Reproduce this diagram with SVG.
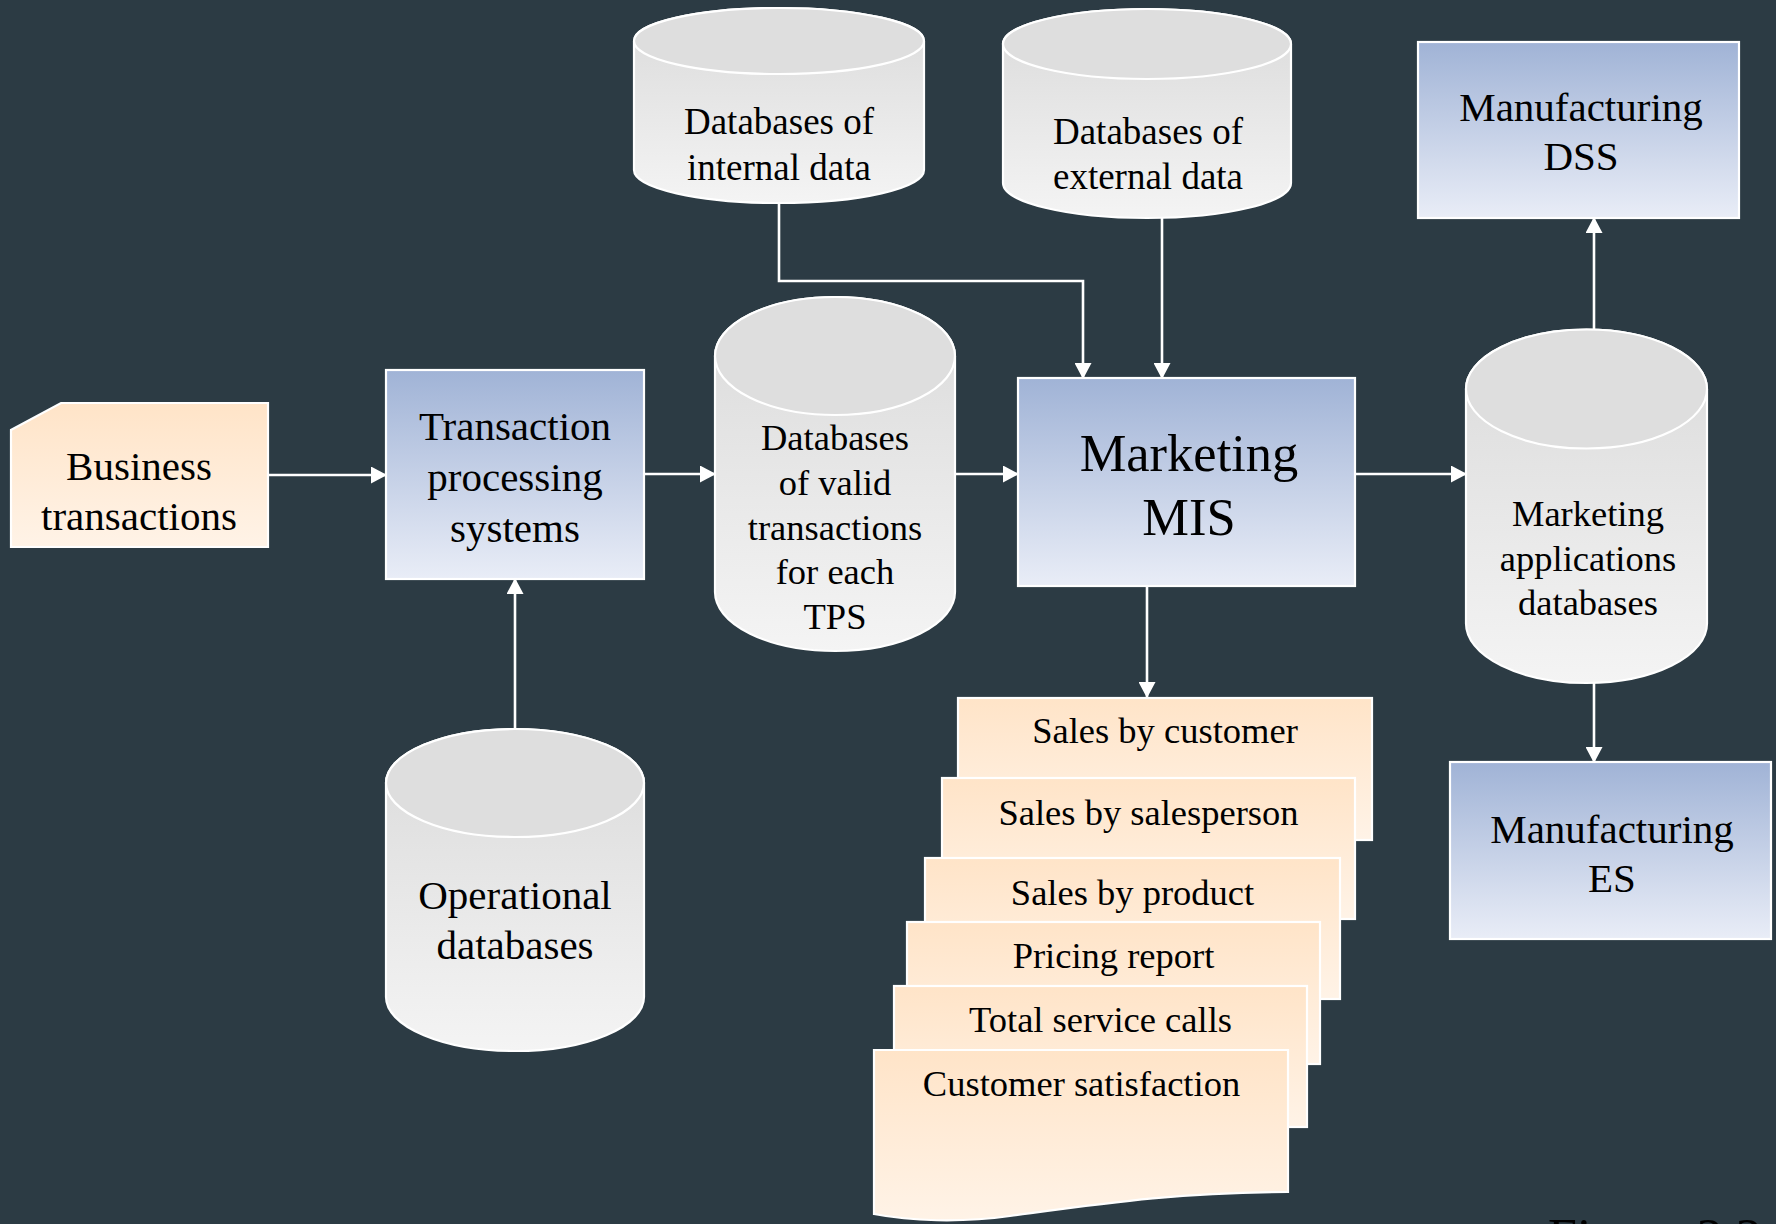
<svg xmlns="http://www.w3.org/2000/svg" width="1776" height="1224" viewBox="0 0 1776 1224">
<defs>
<linearGradient id="peach" x1="0" y1="0" x2="0" y2="1"><stop offset="0" stop-color="#FFE4C8"/><stop offset="1" stop-color="#FFF3E7"/></linearGradient>
<linearGradient id="blue" x1="0" y1="0" x2="0" y2="1"><stop offset="0" stop-color="#A0B3D6"/><stop offset="1" stop-color="#E9EDF7"/></linearGradient>
<linearGradient id="cyl" x1="0" y1="0" x2="0" y2="1"><stop offset="0" stop-color="#DADADA"/><stop offset="1" stop-color="#F4F4F4"/></linearGradient>
<marker id="arr" markerUnits="userSpaceOnUse" markerWidth="17" markerHeight="17" refX="15" refY="8.5" orient="auto"><path d="M0,0 L16,8.5 L0,17 Z" fill="#FFFFFF"/></marker>
<style>
.bg{fill:#2C3B44}
.box{stroke:#FFFFFF;stroke-width:2.2}
.pe{fill:url(#peach)}
.bl{fill:url(#blue)}
.cb{fill:url(#cyl);stroke:#FFFFFF;stroke-width:2.2}
.ct{fill:#DEDEDE;stroke:#FFFFFF;stroke-width:2.2}
.con{fill:none;stroke:#FFFFFF;stroke-width:2.6;marker-end:url(#arr)}
text{font-family:"Liberation Serif","Times New Roman",serif;fill:#000000;text-anchor:middle}
.t41{font-size:41px}
.t37{font-size:37px}
.t36{font-size:36.5px}
.t52{font-size:52.5px}
</style>
</defs>
<rect class="bg" x="0" y="0" width="1776" height="1224"/>

<g id="connectors">
<path class="con" d="M268,475 H386"/>
<path class="con" d="M644,474 H715"/>
<path class="con" d="M955,474 H1018"/>
<path class="con" d="M1355,474 H1466"/>
<path class="con" d="M515,729 V579"/>
<path class="con" d="M779,203 V281 H1083 V378"/>
<path class="con" d="M1162,218 V378"/>
<path class="con" d="M1594,329 V218"/>
<path class="con" d="M1594,683 V762"/>
<path class="con" d="M1147,586 V697"/>
</g>

<g id="business-transactions">
<path class="box pe" d="M61,403 H268 V547 H11 V430 Z"/>
<text class="t41" x="139" y="480">Business</text>
<text class="t41" x="139" y="530">transactions</text>
</g>

<g id="tps">
<rect class="box bl" x="386" y="370" width="258" height="209"/>
<text class="t41" x="515" y="440">Transaction</text>
<text class="t41" x="515" y="491">processing</text>
<text class="t41" x="515" y="542">systems</text>
</g>

<g id="db-internal">
<path class="cb" d="M634,41 A145,33 0 0 1 924,41 V170 A145,33 0 0 1 634,170 Z"/>
<ellipse class="ct" cx="779" cy="41" rx="145" ry="33"/>
<text class="t37" x="779" y="134">Databases of</text>
<text class="t37" x="779" y="180">internal data</text>
</g>

<g id="db-external">
<path class="cb" d="M1003,44 A144,35 0 0 1 1291,44 V183 A144,35 0 0 1 1003,183 Z"/>
<ellipse class="ct" cx="1147" cy="44" rx="144" ry="35"/>
<text class="t37" x="1148" y="144">Databases of</text>
<text class="t37" x="1148" y="189">external data</text>
</g>

<g id="db-valid">
<path class="cb" d="M715,356 A120,59 0 0 1 955,356 V592 A120,59 0 0 1 715,592 Z"/>
<ellipse class="ct" cx="835" cy="356" rx="120" ry="59"/>
<text class="t36" x="835" y="450">Databases</text>
<text class="t36" x="835" y="495">of valid</text>
<text class="t36" x="835" y="540">transactions</text>
<text class="t36" x="835" y="584">for each</text>
<text class="t36" x="835" y="629">TPS</text>
</g>

<g id="marketing-mis">
<rect class="box bl" x="1018" y="378" width="337" height="208"/>
<text class="t52" x="1189" y="471">Marketing</text>
<text class="t52" x="1189" y="535">MIS</text>
</g>

<g id="db-marketing-apps">
<path class="cb" d="M1466,389 A120.5,59.5 0 0 1 1707,389 V623.5 A120.5,59.5 0 0 1 1466,623.5 Z"/>
<ellipse class="ct" cx="1586.5" cy="389" rx="120.5" ry="59.5"/>
<text class="t36" x="1588" y="526">Marketing</text>
<text class="t36" x="1588" y="571">applications</text>
<text class="t36" x="1588" y="615">databases</text>
</g>

<g id="manufacturing-dss">
<rect class="box bl" x="1418" y="42" width="321" height="176"/>
<text class="t41" x="1581" y="121">Manufacturing</text>
<text class="t41" x="1581" y="170">DSS</text>
</g>

<g id="manufacturing-es">
<rect class="box bl" x="1450" y="762" width="321" height="177"/>
<text class="t41" x="1612" y="843">Manufacturing</text>
<text class="t41" x="1612" y="892">ES</text>
</g>

<g id="db-operational">
<path class="cb" d="M386,783 A129,54 0 0 1 644,783 V997 A129,54 0 0 1 386,997 Z"/>
<ellipse class="ct" cx="515" cy="783" rx="129" ry="54"/>
<text class="t41" x="515" y="909">Operational</text>
<text class="t41" x="515" y="959">databases</text>
</g>

<g id="report-sales-customer">
<rect class="box pe" x="958" y="698" width="414" height="142"/>
<text class="t36" x="1165" y="743">Sales by customer</text>
</g>
<g id="report-sales-salesperson">
<rect class="box pe" x="942" y="778" width="413" height="141"/>
<text class="t36" x="1148.5" y="825">Sales by salesperson</text>
</g>
<g id="report-sales-product">
<rect class="box pe" x="925" y="858" width="415" height="141"/>
<text class="t36" x="1132.5" y="905">Sales by product</text>
</g>
<g id="report-pricing">
<rect class="box pe" x="907" y="922" width="413" height="142"/>
<text class="t36" x="1113.5" y="968">Pricing report</text>
</g>
<g id="report-service-calls">
<rect class="box pe" x="894" y="986" width="413" height="141"/>
<text class="t36" x="1100.5" y="1032">Total service calls</text>
</g>
<g id="report-customer-satisfaction">
<path class="box pe" d="M874,1050 H1288 V1192 C1180,1192 1100,1204 1010,1216 C960,1223 910,1221 874,1214 Z"/>
<text class="t36" x="1081.5" y="1096">Customer satisfaction</text>
</g>

<text x="1548" y="1255" style="font-size:52px;text-anchor:start">Figure 2.2</text>
</svg>
